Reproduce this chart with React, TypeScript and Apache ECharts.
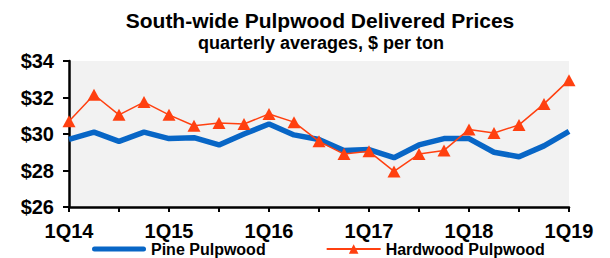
import React, { useEffect, useRef } from "react";
import * as echarts from "echarts";

const categories = [
  "1Q14", "2Q14", "3Q14", "4Q14",
  "1Q15", "2Q15", "3Q15", "4Q15",
  "1Q16", "2Q16", "3Q16", "4Q16",
  "1Q17", "2Q17", "3Q17", "4Q17",
  "1Q18", "2Q18", "3Q18", "4Q18",
  "1Q19",
];

const pinePulpwood = [
  29.7, 30.1, 29.6, 30.1,
  29.75, 29.8, 29.4, 30.0,
  30.55, 29.95, 29.7, 29.1,
  29.15, 28.7, 29.4, 29.75,
  29.75, 29.0, 28.75, 29.35,
  30.15,
];

const hardwoodPulpwood = [
  30.7, 32.15, 31.05, 31.75,
  31.05, 30.45, 30.6, 30.55,
  31.1, 30.65, 29.6, 28.9,
  29.05, 27.95, 28.9, 29.1,
  30.25, 30.05, 30.5, 31.65,
  32.95,
];

const titleText = "South-wide Pulpwood Delivered Prices";
const subtitleText = "quarterly averages, $ per ton";

const FONT = "'Liberation Sans', Arial, sans-serif";

export default function App() {
  const ref = useRef<HTMLDivElement>(null);

  useEffect(() => {
    if (!ref.current) return;
    const chart = echarts.init(ref.current, undefined, { renderer: "svg" });
    chart.setOption({
      animation: false,
      backgroundColor: "#ffffff",
      textStyle: { fontFamily: FONT },
      graphic: [
        {
          type: "text",
          x: 320,
          y: 20,
          style: {
            text: titleText,
            font: `bold 21px ${FONT}`,
            fill: "#000",
            textAlign: "center",
            textVerticalAlign: "middle",
          },
        },
        {
          type: "text",
          x: 321,
          y: 43,
          style: {
            text: subtitleText,
            font: `bold 18px ${FONT}`,
            fill: "#000",
            textAlign: "center",
            textVerticalAlign: "middle",
          },
        },
      ],
      grid: {
        left: 69,
        right: 41,
        top: 61,
        bottom: 51,
        show: true,
        backgroundColor: "#f2f2f2",
        borderWidth: 0,
      },
      legend: {
        left: 87,
        top: 236,
        itemWidth: 54,
        itemHeight: 12,
        itemGap: 60,
        textStyle: {
          fontFamily: FONT,
          fontWeight: "bold",
          fontSize: 16,
          lineHeight: 16,
          color: "#000",
        },
        data: [
          {
            name: "Pine Pulpwood",
            icon: "path://M2.5,0 L51.5,0 A2.5,2.5 0 0 1 51.5,5 L2.5,5 A2.5,2.5 0 0 1 2.5,0 Z",
          },
          { name: "Hardwood Pulpwood" },
        ],
      },
      xAxis: {
        type: "category",
        data: categories,
        boundaryGap: false,
        axisLine: { lineStyle: { color: "#000", width: 2.5 } },
        axisTick: {
          interval: 1,
          length: 5,
          lineStyle: { color: "#000", width: 2 },
        },
        axisLabel: {
          interval: 3,
          margin: 15,
          lineHeight: 18,
          fontFamily: FONT,
          fontWeight: "bold",
          fontSize: 20,
          color: "#000",
        },
        splitLine: { show: false },
      },
      yAxis: {
        type: "value",
        min: 26,
        max: 34,
        interval: 2,
        axisLine: { show: true, lineStyle: { color: "#000", width: 2.5 } },
        axisTick: {
          show: true,
          length: 6,
          lineStyle: { color: "#000", width: 2 },
        },
        axisLabel: {
          margin: 15,
          formatter: (v: number) => "$" + v,
          fontFamily: FONT,
          fontWeight: "bold",
          fontSize: 20,
          color: "#000",
        },
        splitLine: { show: false },
      },
      series: [
        {
          name: "Pine Pulpwood",
          type: "line",
          data: pinePulpwood,
          symbol: "none",
          lineStyle: { color: "#0866c6", width: 5.5 },
          itemStyle: { color: "#0866c6" },
          z: 2,
        },
        {
          name: "Hardwood Pulpwood",
          type: "line",
          data: hardwoodPulpwood,
          symbol: "triangle",
          symbolSize: [13, 12],
          lineStyle: { color: "#ff4010", width: 1.5 },
          itemStyle: { color: "#ff4010" },
          z: 3,
        },
      ],
    });
    return () => chart.dispose();
  }, []);

  return <div ref={ref} style={{ width: 610, height: 258, position: "absolute", left: 0, top: 0 }} />;
}
